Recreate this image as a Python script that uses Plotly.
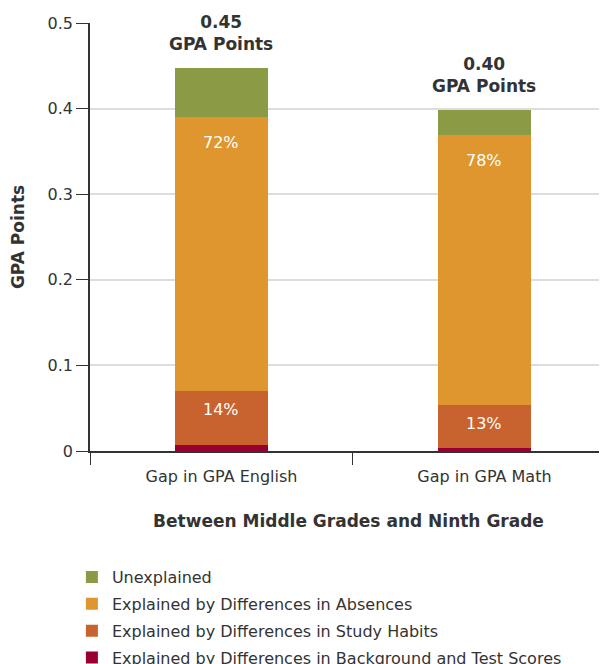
import plotly.graph_objects as go

categories = ["Gap in GPA English", "Gap in GPA Math"]
series_names = [
    "Explained by Differences in Background and Test Scores",
    "Explained by Differences in Study Habits",
    "Explained by Differences in Absences",
    "Unexplained",
]
background = [0.007, 0.003]
study_habits = [0.063, 0.051]
absences = [0.320, 0.315]
unexplained = [0.058, 0.029]
totals_text = ["0.45", "0.40"]
absences_pct = ["72%", "78%"]
study_pct = ["14%", "13%"]

colors = ["#970030", "#C8632F", "#E0962E", "#8A9A45"]
FONT = "DejaVu Sans"
TXT = "#333333"

fig = go.Figure()
series = [background, study_habits, absences, unexplained]
for k, (name, vals, col) in enumerate(zip(series_names, series, colors)):
    fig.add_trace(go.Bar(x=categories, y=vals, name=name, legendgroup=name, legendrank=4 - k,
                         marker=dict(color=col, line=dict(width=0)), width=0.357))

# labels
for i, cat in enumerate(categories):
    total = background[i] + study_habits[i] + absences[i] + unexplained[i]
    fig.add_annotation(x=cat, y=total, text="<b>%s</b><br><b>GPA Points</b>" % totals_text[i],
                       showarrow=False, yanchor="bottom", yshift=12,
                       font=dict(family=FONT, size=17, color=TXT))
    top_abs = background[i] + study_habits[i] + absences[i]
    fig.add_annotation(x=cat, y=top_abs, text=absences_pct[i], showarrow=False, yanchor="top",
                       yshift=-14, font=dict(family=FONT, size=16, color="white"))
    top_study = background[i] + study_habits[i]
    fig.add_annotation(x=cat, y=top_study, text=study_pct[i], showarrow=False, yanchor="top",
                       yshift=-7, font=dict(family=FONT, size=16, color="white"))

# page body has an 8px margin, so the figure is sized to the remaining window
fig.update_layout(
    barmode="stack",
    width=599, height=656,
    margin=dict(l=82, r=0, t=15, b=213, autoexpand=False),
    plot_bgcolor="white", paper_bgcolor="white",
    font=dict(family=FONT, size=16, color=TXT),
    showlegend=True,
    legend=dict(x=-0.035, xanchor="left", y=-0.255, yanchor="top", tracegroupgap=3,
                font=dict(family=FONT, size=16, color=TXT), traceorder="grouped"),
    xaxis=dict(range=[-0.5, 1.466], showline=True, linecolor="#333", linewidth=1.5,
               ticks="outside", tickson="boundaries", ticklen=12, tickcolor="#333",
               ticklabelstandoff=10, automargin=False,
               title=dict(text="<b>Between Middle Grades and Ninth Grade</b>", standoff=30,
                          font=dict(family=FONT, size=17, color=TXT))),
    yaxis=dict(range=[0, 0.5], tickvals=[0, 0.1, 0.2, 0.3, 0.4, 0.5],
               ticktext=["0", "0.1", "0.2", "0.3", "0.4", "0.5"],
               showline=True, linecolor="#333", linewidth=1.5, ticks="outside", ticklen=12,
               tickcolor="#333", gridcolor="#dddddd", gridwidth=1.5, zeroline=False,
               automargin=False,
               title=dict(text="<b>GPA Points</b>", standoff=19,
                          font=dict(family=FONT, size=17, color=TXT))),
)

fig.write_html("out.html")
